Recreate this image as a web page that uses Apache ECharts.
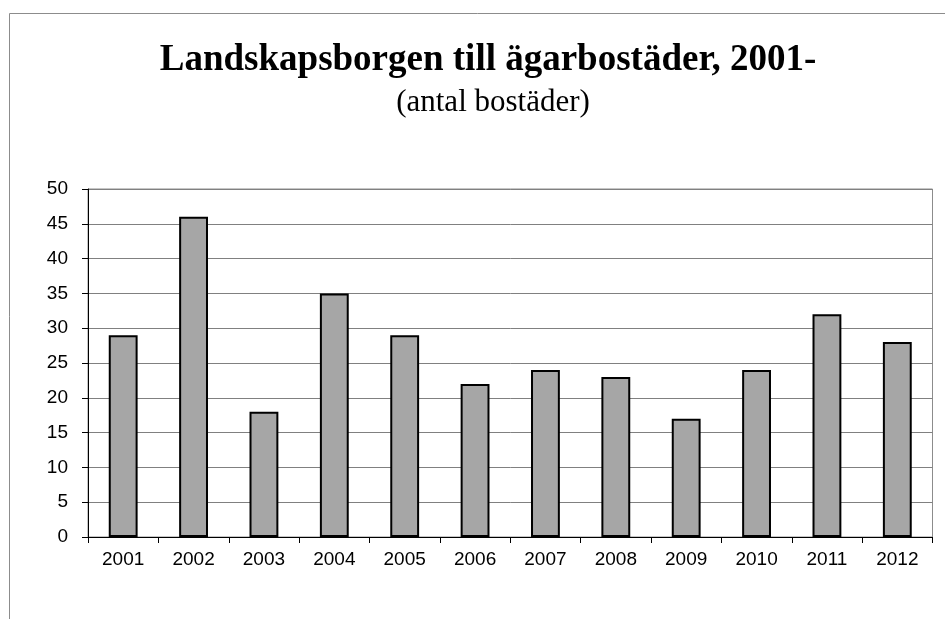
<!DOCTYPE html>
<html>
<head>
<meta charset="utf-8">
<script src="https://cdn.jsdelivr.net/npm/echarts@6/dist/echarts.min.js"></script>
<style>
  html, body { margin: 0; padding: 0; background: #fff; }
  #chart { width: 945px; height: 619px; }
</style>
</head>
<body>
<div id="chart"></div>
<script>
const years = ['2001', '2002', '2003', '2004', '2005', '2006', '2007', '2008', '2009', '2010', '2011', '2012']
const bostader = [29, 46, 18, 35, 29, 22, 24, 23, 17, 24, 32, 28]

const chart = echarts.init(document.getElementById('chart'), null, { renderer: 'canvas' })

chart.setOption({
  backgroundColor: '#ffffff',
  animation: false,
  // outer frame, only its left and top edges fall inside the view
  graphic: [
    {
      type: 'rect',
      shape: { x: 9.5, y: 13.5, width: 1000, height: 700 },
      style: { fill: 'none', stroke: '#8c8c8c', lineWidth: 1 },
      silent: true
    }
  ],
  title: [
    {
      text: 'Landskapsborgen till ägarbostäder, 2001-',
      left: 488, top: 42, textAlign: 'center', padding: 0,
      textStyle: { fontFamily: 'Liberation Serif', fontSize: 37, fontWeight: 'bold', color: '#000' }
    },
    {
      text: '(antal bostäder)',
      left: 493, top: 87, textAlign: 'center', padding: 0,
      textStyle: { fontFamily: 'Liberation Serif', fontSize: 31, fontWeight: 'normal', color: '#000' }
    }
  ],
  grid: {
    left: 88, right: 12.5, top: 189, bottom: 82,
    show: true, borderColor: '#8c8c8c', borderWidth: 1, backgroundColor: 'transparent'
  },
  xAxis: {
    type: 'category',
    data: years,
    axisLine: { lineStyle: { color: '#000', width: 1 } },
    axisTick: { show: true, alignWithLabel: false, length: 6, lineStyle: { color: '#000' } },
    axisLabel: { color: '#000', fontFamily: 'Liberation Sans', fontSize: 19, margin: 13 },
    splitLine: { show: false }
  },
  yAxis: {
    type: 'value',
    min: 0, max: 50, interval: 5,
    axisLine: { show: true, lineStyle: { color: '#000', width: 1 } },
    axisTick: { show: true, length: 6, lineStyle: { color: '#000' } },
    axisLabel: { color: '#000', fontFamily: 'Liberation Sans', fontSize: 19, margin: 20 },
    splitLine: { show: true, lineStyle: { color: '#808080', width: 1 } }
  },
  series: [
    {
      type: 'bar',
      data: bostader,
      barWidth: '41%',
      itemStyle: { color: '#a6a6a6', borderColor: '#000', borderWidth: 2 }
    }
  ]
})
</script>
</body>
</html>
